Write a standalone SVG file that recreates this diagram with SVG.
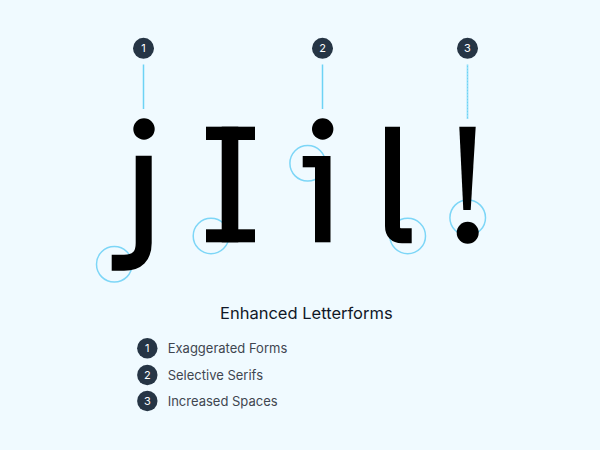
<svg xmlns="http://www.w3.org/2000/svg" width="600" height="450" viewBox="0 0 600 450">
<style>
.bg{fill:#f0faff}
.badge{fill:#263545}
.num{fill:#ffffff;font-family:Inter,"Liberation Sans",sans-serif;font-size:11px;text-anchor:middle}
.lead{stroke:#6dd3f5;stroke-width:1.5;fill:none}
.hl{stroke:#7dd6f7;stroke-width:1.5;fill:none}
.ink{fill:#000000}
.stk{stroke:#000000;fill:none;stroke-linecap:butt}
.title{fill:#111827;font-family:Inter,"Liberation Sans",sans-serif;font-size:16.5px;text-anchor:middle}
.item{fill:#3f4650;font-family:Inter,"Liberation Sans",sans-serif;font-size:13px}
</style>
<rect class="bg" x="0" y="0" width="600" height="450"/>
<g id="connectors">
<line class="lead" x1="143.5" y1="64.5" x2="143.5" y2="109"/>
<line class="lead" x1="322.5" y1="64.5" x2="322.5" y2="109"/>
<line class="lead" x1="467.5" y1="64.5" x2="467.5" y2="119"/>
<line x1="467.5" y1="64.5" x2="467.5" y2="119" stroke="#c8f0fc" stroke-width="0.8" stroke-dasharray="1 2"/>
</g>
<g id="badge-1"><circle class="badge" cx="143.5" cy="48.3" r="10.5"/><text class="num" x="143.5" y="52.2">1</text></g>
<g id="badge-2"><circle class="badge" cx="322.5" cy="48.3" r="10.5"/><text class="num" x="322.5" y="52.2">2</text></g>
<g id="badge-3"><circle class="badge" cx="467.5" cy="48.3" r="10.5"/><text class="num" x="467.5" y="52.2">3</text></g>
<g id="highlights">
<circle class="hl" cx="114.3" cy="264.3" r="17.8"/>
<circle class="hl" cx="211" cy="236" r="17.8"/>
<circle class="hl" cx="307.7" cy="163.3" r="17.8"/>
<circle class="hl" cx="407.7" cy="236" r="17.8"/>
<circle class="hl" cx="467.7" cy="217.7" r="17.8"/>
</g>
<g id="letter-j">
<circle class="ink" cx="144" cy="129" r="10.7"/>
<path class="stk" stroke-width="16" d="M143.7,155.7 V243 Q143.7,262.7 124,262.7 H111.7"/>
</g>
<g id="letter-I">
<rect class="ink" x="206" y="126.7" width="49" height="13.3"/>
<rect class="ink" x="221.7" y="126.7" width="16.6" height="115.6"/>
<rect class="ink" x="206" y="229.3" width="49" height="13"/>
</g>
<g id="letter-i">
<circle class="ink" cx="322.7" cy="129" r="10.7"/>
<rect class="ink" x="315" y="156" width="15.5" height="86.3"/>
<rect class="ink" x="302.7" y="156" width="13" height="11.3"/>
</g>
<g id="letter-l">
<path class="stk" stroke-width="15" d="M392.5,126.7 V226 Q392.5,235.8 402,235.8 H411.7"/>
</g>
<g id="letter-excl">
<path class="ink" d="M459.3,126.7 H475.7 L470.7,210 H463.3 Z"/>
<circle class="ink" cx="467.7" cy="232.7" r="11"/>
</g>
<text class="title" x="306.3" y="319.3">Enhanced Letterforms</text>
<g id="legend-1"><circle class="badge" cx="147.3" cy="348.3" r="10.2"/><text class="num" x="147.3" y="352.2">1</text><text class="item" x="167.7" y="352.8">Exaggerated Forms</text></g>
<g id="legend-2"><circle class="badge" cx="147.3" cy="375" r="10.2"/><text class="num" x="147.3" y="378.9">2</text><text class="item" x="167.7" y="379.5">Selective Serifs</text></g>
<g id="legend-3"><circle class="badge" cx="147.3" cy="401" r="10.2"/><text class="num" x="147.3" y="404.9">3</text><text class="item" x="167.7" y="405.5">Increased Spaces</text></g>
</svg>
